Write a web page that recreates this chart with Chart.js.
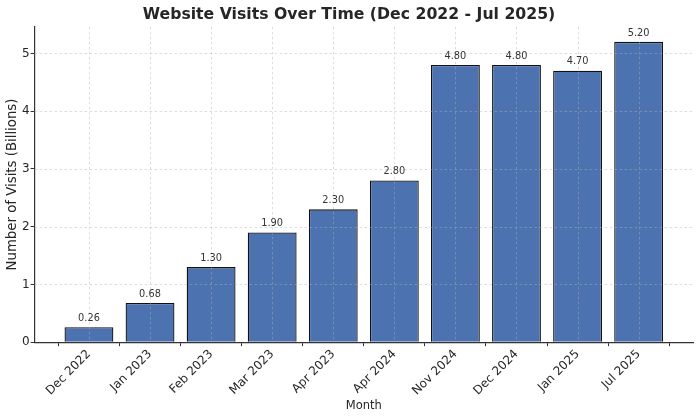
<!DOCTYPE html>
<html>
<head>
<meta charset="utf-8">
<script src="https://cdn.jsdelivr.net/npm/chart.js@4/dist/chart.umd.min.js"></script>
<style>
  html,body{margin:0;padding:0;background:#fff;}
  #wrap{width:700px;height:417px;}
</style>
</head>
<body>
<div id="wrap"><canvas id="c" width="700" height="417"></canvas></div>
<script>
// data
const months = ["Dec 2022","Jan 2023","Feb 2023","Mar 2023","Apr 2023","Apr 2024","Nov 2024","Dec 2024","Jan 2025","Jul 2025"];
const visits = [0.26, 0.68, 1.30, 1.90, 2.30, 2.80, 4.80, 4.80, 4.70, 5.20];
const yTicks = [0, 1, 2, 3, 4, 5];

const FONT = "'DejaVu Sans', sans-serif";

// dashed grid drawn on top of the bars, then value labels
const overlay = {
  id: "overlay",
  afterDatasetsDraw(chart) {
    const {ctx, chartArea: a, scales: {x, y}} = chart;
    ctx.save();
    ctx.strokeStyle = "rgba(176,176,176,0.55)";
    ctx.lineWidth = 0.8;
    ctx.setLineDash([2.5, 2.5]);
    x.ticks.forEach(t => {
      const px = Math.round(x.getPixelForValue(t.value)) + 0.5;
      ctx.beginPath(); ctx.moveTo(px, a.top); ctx.lineTo(px, a.bottom); ctx.stroke();
    });
    y.ticks.forEach(t => {
      if (t.value === 0) return;
      const py = Math.round(y.getPixelForValue(t.value)) + 0.5;
      ctx.beginPath(); ctx.moveTo(a.left, py); ctx.lineTo(a.right, py); ctx.stroke();
    });
    ctx.setLineDash([]);
    ctx.fillStyle = "#333";
    ctx.font = "9.8px " + FONT;
    ctx.textAlign = "center";
    ctx.textBaseline = "bottom";
    chart.getDatasetMeta(0).data.forEach((bar, i) => {
      ctx.fillText(visits[i].toFixed(2), bar.x, bar.y - 4);
    });
    ctx.restore();
  }
};

new Chart(document.getElementById("c"), {
  type: "bar",
  data: {
    datasets: [{
      data: visits.map((v, i) => ({x: i, y: v})),
      backgroundColor: "#4C72B0",
      borderColor: "#111",
      borderWidth: 1.3,
      barPercentage: 0.8,
      categoryPercentage: 1.0
    }]
  },
  options: {
    responsive: false,
    animation: false,
    devicePixelRatio: 1,
    layout: {padding: {top: 6, right: 7, left: 5, bottom: 4}},
    plugins: {
      legend: {display: false},
      tooltip: {enabled: false},
      title: {
        display: true,
        text: "Website Visits Over Time (Dec 2022 - Jul 2025)",
        color: "#262626",
        font: {family: FONT, size: 15.7, weight: "bold"},
        padding: {top: 0, bottom: 2}
      }
    },
    scales: {
      x: {
        type: "linear",
        offset: false,
        min: -0.89,
        max: 9.89,
        afterBuildTicks: s => { s.ticks = months.map((_, i) => ({value: i})); },
        ticks: {
          color: "#262626",
          font: {family: FONT, size: 12},
          maxRotation: 45, minRotation: 45,
          autoSkip: false,
          padding: 1,
          callback: v => months[v]
        },
        grid: {drawOnChartArea: false, color: "#333", tickLength: 4, tickWidth: 1},
        border: {display: true, color: "#333", width: 1.2},
        title: {display: true, text: "Month", color: "#262626", font: {family: FONT, size: 11.5}, padding: {top: 0, bottom: 0}}
      },
      y: {
        min: 0,
        max: 5.46,
        afterBuildTicks: s => { s.ticks = yTicks.map(v => ({value: v})); },
        ticks: {color: "#262626", font: {family: FONT, size: 12}, padding: 1},
        grid: {drawOnChartArea: false, color: "#333", tickLength: 4, tickWidth: 1},
        border: {display: true, color: "#333", width: 1.2},
        title: {display: true, text: "Number of Visits (Billions)", color: "#262626", font: {family: FONT, size: 13.3}, padding: {top: 0, bottom: 0}}
      }
    }
  },
  plugins: [overlay]
});
</script>
</body>
</html>
